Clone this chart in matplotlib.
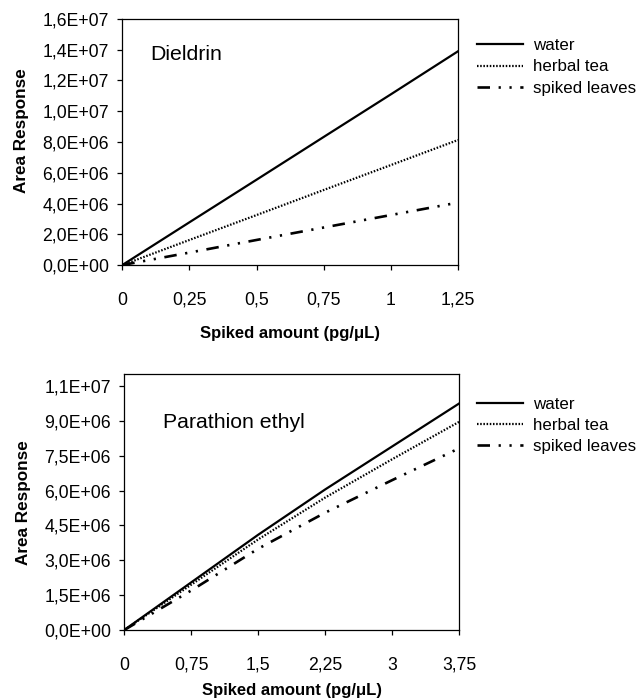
import matplotlib
matplotlib.use("Agg")
import matplotlib.pyplot as plt

plt.rcParams['font.family'] = ['Liberation Sans', 'DejaVu Sans']
plt.rcParams['lines.scale_dashes'] = False

# Dieldrin calibration (top panel)
x_diel = [0, 0.25, 0.5, 0.75, 1.0, 1.25]
water_diel = [0, 2.78e6, 5.55e6, 8.33e6, 11.1e6, 13.9e6]
tea_diel = [0, 1.63e6, 3.25e6, 4.88e6, 6.5e6, 8.13e6]
leaves_diel = [0, 0.81e6, 1.63e6, 2.44e6, 3.25e6, 4.06e6]
yticks_diel = [0, 2e6, 4e6, 6e6, 8e6, 1e7, 1.2e7, 1.4e7, 1.6e7]
ylabels_diel = ["0,0E+00", "2,0E+06", "4,0E+06", "6,0E+06", "8,0E+06",
                "1,0E+07", "1,2E+07", "1,4E+07", "1,6E+07"]
xlabels_diel = ["0", "0,25", "0,5", "0,75", "1", "1,25"]

# Parathion ethyl calibration (bottom panel)
x_para = [0, 0.75, 1.5, 2.25, 3.0, 3.75]
water_para = [0, 2.05e6, 4.1e6, 6.05e6, 7.9e6, 9.75e6]
tea_para = [0, 1.95e6, 3.9e6, 5.7e6, 7.35e6, 8.96e6]
leaves_para = [0, 1.7e6, 3.5e6, 5.05e6, 6.45e6, 7.82e6]
yticks_para = [0, 1.5e6, 3e6, 4.5e6, 6e6, 7.5e6, 9e6, 1.05e7]
ylabels_para = ["0,0E+00", "1,5E+06", "3,0E+06", "4,5E+06", "6,0E+06",
                "7,5E+06", "9,0E+06", "1,1E+07"]
xlabels_para = ["0", "0,75", "1,5", "2,25", "3", "3,75"]

series_names = ["water", "herbal tea", "spiked leaves"]

fig = plt.figure(figsize=(6.37, 6.98), dpi=100)
ax1 = fig.add_axes([0.192, 0.6203, 0.527, 0.3525])
ax2 = fig.add_axes([0.195, 0.0974, 0.526, 0.3663])


def draw_panel(ax, x, water, tea, leaves, yticks, ylabels, xlabels, ymax, title, tpos,
               legend_top, ylab_y, xlab_pad):
    ax.plot(x, water, color="black", lw=1.6, label=series_names[0])
    ax.plot(x, tea, color="black", lw=1.6, linestyle=(0, (1.1, 1.2)), label=series_names[1])
    ax.plot(x, leaves, color="black", lw=1.9,
            linestyle=(0, (9, 6.2, 1.6, 6.2, 1.6, 6.2)), label=series_names[2])
    ax.set_xlim(x[0], x[-1])
    ax.set_ylim(0, ymax)
    ax.set_xticks(x)
    ax.set_xticklabels(xlabels)
    ax.set_yticks(yticks)
    ax.set_yticklabels(ylabels)
    ax.tick_params(axis="y", direction="out", length=3.6, width=0.9, pad=6, labelsize=12.7)
    ax.tick_params(axis="x", direction="out", length=3.6, width=0.9, pad=15.5, labelsize=12.7)
    for s in ax.spines.values():
        s.set_linewidth(0.9)
    ax.set_xlabel("Spiked amount (pg/\u03bcL)", fontsize=12, fontweight="bold", labelpad=xlab_pad)
    ax.set_ylabel("Area Response", fontsize=12.3, fontweight="bold", labelpad=9, y=ylab_y)
    ax.text(tpos[0], tpos[1], title, transform=ax.transAxes, fontsize=15.3,
            ha="left", va="center")
    ax.legend(loc="upper left", bbox_to_anchor=(0.749, legend_top),
              bbox_transform=fig.transFigure, frameon=False, fontsize=12.2,
              handlelength=2.7, handletextpad=0.6, labelspacing=0.36,
              borderpad=0, borderaxespad=0)


draw_panel(ax1, x_diel, water_diel, tea_diel, leaves_diel, yticks_diel, ylabels_diel,
           xlabels_diel, 1.6e7, "Dieldrin", (0.083, 0.854), 0.945, 0.545, 12.5)
draw_panel(ax2, x_para, water_para, tea_para, leaves_para, yticks_para, ylabels_para,
           xlabels_para, 1.1e7, "Parathion ethyl", (0.115, 0.813), 0.431, 0.5, 7)

fig.savefig("out.png", dpi=100)
